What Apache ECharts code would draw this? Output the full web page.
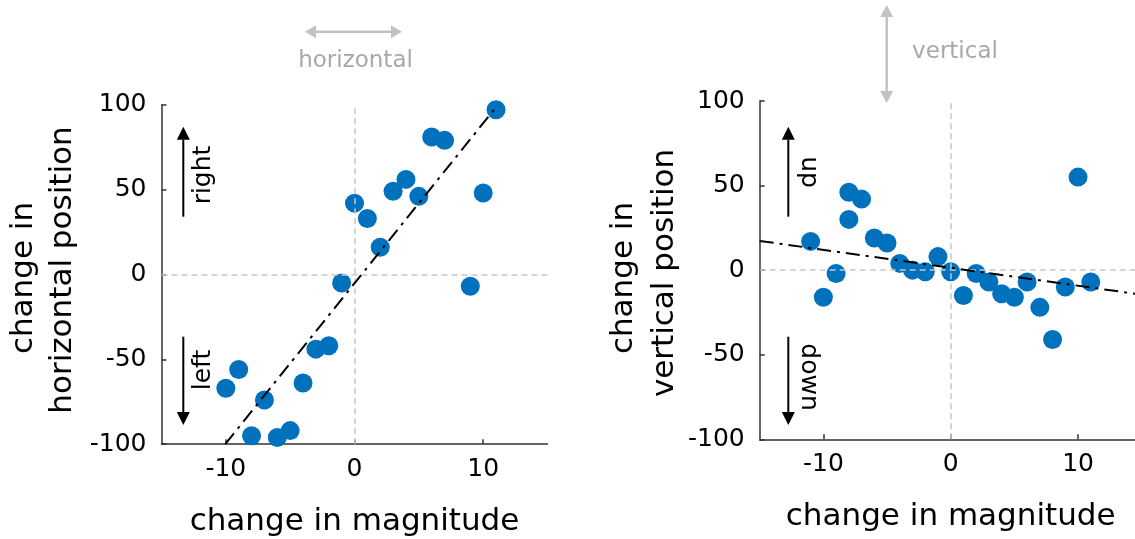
<!DOCTYPE html>
<html>
<head>
<meta charset="utf-8">
<script src="https://cdn.jsdelivr.net/npm/echarts@6/dist/echarts.min.js"></script>
<style>
  html, body { margin: 0; padding: 0; background: #fff; }
  #chart { width: 1135px; height: 539px; }
</style>
</head>
<body>
<div id="chart"></div>
<script>
// left panel: change in magnitude vs change in horizontal position
var horizX = [-10, -9, -8, -7, -6, -5, -4, -3, -2, -1, 0, 1, 2, 3, 4, 5, 6, 7, 9, 10, 11];
var horizY = [-67, -56, -95, -74, -96, -92, -64, -44, -42, -5, 42, 33, 16, 49, 56, 46, 81, 79, -7, 48, 97];
var horizFit = [[-10.05, -100], [11.05, 99]];

// right panel: change in magnitude vs change in vertical position
var vertX = [-11, -10, -9, -8, -8, -7, -6, -5, -4, -3, -2, -1, 0, 1, 2, 3, 4, 5, 6, 7, 8, 9, 10, 11];
var vertY = [17, -16, -2, 46, 30, 42, 19, 16, 4, 0, -1, 8, -1, -15, -2, -7, -14, -16, -7, -22, -41, -10, 55, -7];
var vertFit = [[-15, 17.3], [15, -14.5]];

var xTicks = [-10, 0, 10];

var font = "DejaVu Sans";
var axisColor = "#333";
var blue = "#0072BD";

function pairs(xs, ys) {
  return xs.map(function(x, i) { return [x, ys[i]]; });
}

function xAxisFor(idx) {
  return {
    type: "value", gridIndex: idx, min: -15, max: 15,
    name: "change in magnitude", nameLocation: "middle", nameGap: 62,
    nameTextStyle: { fontFamily: font, fontSize: 31, color: "#000" },
    axisLine: { onZero: false, lineStyle: { color: axisColor, width: 1.5 } },
    axisTick: { inside: true, length: 5, customValues: xTicks, lineStyle: { color: axisColor, width: 1.5 } },
    axisLabel: { customValues: xTicks, margin: 13, fontFamily: font, fontSize: 25, color: "#000" },
    splitLine: { show: false }
  };
}

function yAxisFor(idx) {
  return {
    type: "value", gridIndex: idx, min: -100, max: 100, interval: 50,
    axisLine: { onZero: false, lineStyle: { color: axisColor, width: 1.5 } },
    axisTick: { inside: true, length: 5, lineStyle: { color: axisColor, width: 1.5 } },
    axisLabel: { margin: 15, fontFamily: font, fontSize: 25, color: "#000" },
    splitLine: { show: false }
  };
}

function refLines() {
  return {
    silent: true, symbol: "none", label: { show: false },
    lineStyle: { color: "#c8c8c8", type: [6, 4], width: 1.5 },
    data: [{ xAxis: 0 }, { yAxis: 0 }]
  };
}

function dots(idx, data) {
  return {
    type: "scatter", xAxisIndex: idx, yAxisIndex: idx, data: data,
    symbolSize: 19, itemStyle: { color: blue, opacity: 1 },
    markLine: refLines(), z: 2
  };
}

function fit(idx, data) {
  return {
    type: "line", xAxisIndex: idx, yAxisIndex: idx, data: data,
    symbol: "none", silent: true, z: 5,
    lineStyle: { color: "#000", width: 2, type: [14, 6, 3, 6] }
  };
}

// arrow helpers for the annotations
function vArrow(x, yFrom, yTip, color, w) {
  var dir = yTip < yFrom ? 1 : -1, head = 13;
  return [
    { type: "line", shape: { x1: x, y1: yFrom, x2: x, y2: yTip + dir * head }, style: { stroke: color, lineWidth: w } },
    { type: "polygon", shape: { points: [[x, yTip], [x - 6.5, yTip + dir * head], [x + 6.5, yTip + dir * head]] }, style: { fill: color } }
  ];
}
function vDouble(x, y1, y2, color, w) {
  var head = 12;
  return [
    { type: "line", shape: { x1: x, y1: y1 + head, x2: x, y2: y2 - head }, style: { stroke: color, lineWidth: w } },
    { type: "polygon", shape: { points: [[x, y1], [x - 6.5, y1 + head], [x + 6.5, y1 + head]] }, style: { fill: color } },
    { type: "polygon", shape: { points: [[x, y2], [x - 6.5, y2 - head], [x + 6.5, y2 - head]] }, style: { fill: color } }
  ];
}
function hDouble(y, x1, x2, color, w) {
  var head = 11;
  return [
    { type: "line", shape: { x1: x1 + head, y1: y, x2: x2 - head, y2: y }, style: { stroke: color, lineWidth: w } },
    { type: "polygon", shape: { points: [[x1, y], [x1 + head, y - 6.5], [x1 + head, y + 6.5]] }, style: { fill: color } },
    { type: "polygon", shape: { points: [[x2, y], [x2 - head, y - 6.5], [x2 - head, y + 6.5]] }, style: { fill: color } }
  ];
}
function label(text, x, y, rot, color, size) {
  return {
    type: "text", x: x, y: y, rotation: rot,
    style: { text: text, fill: color, font: size + "px " + font, align: "center", verticalAlign: "middle" }
  };
}

var gray = "#c2c2c2", grayText = "#a8a8a8";
var up = Math.PI / 2, down = -Math.PI / 2;
var graphics = []
  .concat(hDouble(31.7, 305, 402, gray, 2.5))
  .concat(vDouble(886.7, 5, 103, gray, 2.5))
  .concat(vArrow(183.3, 216.7, 126.7, "#000", 2))
  .concat(vArrow(183.3, 336.7, 425, "#000", 2))
  .concat(vArrow(788.3, 216.7, 126.7, "#000", 2))
  .concat(vArrow(788.3, 336.7, 425, "#000", 2))
  .concat([
    label("horizontal", 355.5, 61, 0, grayText, 23),
    label("vertical", 955, 52, 0, grayText, 23),
    label("right", 203, 175, up, "#000", 25),
    label("left", 203, 370, up, "#000", 25),
    label("up", 808, 172, down, "#000", 25),
    label("down", 808, 377, down, "#000", 25),
    // y axis titles, two lines each
    label("change in", 24, 278, up, "#000", 31),
    label("horizontal position", 63, 270, up, "#000", 31),
    label("change in", 624, 278, up, "#000", 31),
    label("vertical position", 665, 273, up, "#000", 31)
  ]);

var chart = echarts.init(document.getElementById("chart"), null, { renderer: "canvas" });
chart.setOption({
  backgroundColor: "#fff",
  animation: false,
  grid: [
    { left: 161.5, top: 104.7, width: 386, height: 339.5, outerBoundsMode: "none" },
    { left: 759.7, top: 101, width: 382, height: 338.3, outerBoundsMode: "none" }
  ],
  xAxis: [xAxisFor(0), xAxisFor(1)],
  yAxis: [yAxisFor(0), yAxisFor(1)],
  series: [
    dots(0, pairs(horizX, horizY)),
    fit(0, horizFit),
    dots(1, pairs(vertX, vertY)),
    fit(1, vertFit)
  ],
  graphic: graphics
});
</script>
</body>
</html>
